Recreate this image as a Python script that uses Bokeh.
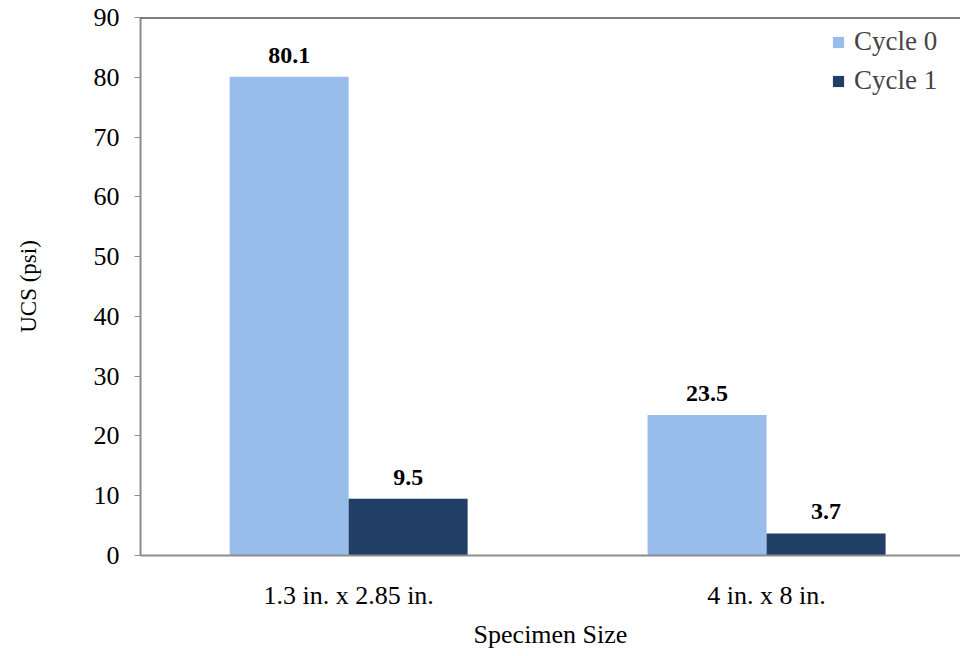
from bokeh.plotting import figure
from bokeh.models import ColumnDataSource, FixedTicker, Range1d, Span, Legend, LegendItem
from bokeh.core.properties import value
from bokeh.transform import dodge
from bokeh.embed import file_html
from bokeh.resources import INLINE

categories = ["1.3 in. x 2.85 in.", "4 in. x 8 in."]
cycle0 = [80.1, 23.5]
cycle1 = [9.5, 3.7]
series_names = ["Cycle 0", "Cycle 1"]
y_ticks = [0, 10, 20, 30, 40, 50, 60, 70, 80, 90]

FONT = "Liberation Serif"
C0 = "#99BDEB"
C1 = "#213F66"

xpos = [i + 1 for i in range(len(categories))]
src = ColumnDataSource(dict(
    x=xpos, c0=cycle0, c1=cycle1,
    l0=[f"{v:.1f}" for v in cycle0], l1=[f"{v:.1f}" for v in cycle1],
))

p = figure(width=960, height=652, output_backend="svg", toolbar_location=None,
           x_range=Range1d(0.502, 2.464), y_range=Range1d(0, 90),
           min_border_left=140, min_border_top=17, min_border_bottom=97, min_border_right=0)
p.outline_line_color = None
p.xgrid.visible = False
p.ygrid.visible = False

bw = 0.2847
r0 = p.vbar(x=dodge("x", -bw / 2, range=p.x_range), top="c0", width=bw, source=src,
            fill_color=C0, line_color=None)
r1 = p.vbar(x=dodge("x", bw / 2, range=p.x_range), top="c1", width=bw, source=src,
            fill_color=C1, line_color=None)

for col, lab, off in (("c0", "l0", -bw / 2), ("c1", "l1", bw / 2)):
    p.text(x=dodge("x", off, range=p.x_range), y=col, text=lab, source=src,
           text_font=value(FONT), text_font_style="bold", text_font_size="24px",
           text_align="center", text_baseline="bottom", y_offset=-14, text_color="black")

p.add_layout(Span(location=90, dimension="width", line_color="black", line_width=2))

# axes
p.yaxis.ticker = FixedTicker(ticks=y_ticks)
p.yaxis.axis_line_color = "#8C8C8C"
p.yaxis.axis_line_width = 2
p.yaxis.major_tick_line_color = "#8C8C8C"
p.yaxis.major_tick_out = 6
p.yaxis.major_tick_in = 0
p.yaxis.minor_tick_line_color = None
p.yaxis.major_label_text_font = FONT
p.yaxis.major_label_text_font_size = "26px"
p.yaxis.major_label_text_color = "black"
p.yaxis.major_label_standoff = 15
p.yaxis.axis_label = "UCS (psi)"
p.yaxis.axis_label_text_font = FONT
p.yaxis.axis_label_text_font_size = "23px"
p.yaxis.axis_label_text_font_style = "normal"
p.yaxis.axis_label_text_color = "black"
p.yaxis.axis_label_standoff = 50

p.xaxis.ticker = FixedTicker(ticks=xpos)
p.xaxis.major_label_overrides = {x: c for x, c in zip(xpos, categories)}
p.xaxis.axis_line_color = "#8C8C8C"
p.xaxis.axis_line_width = 2
p.xaxis.major_tick_line_color = None
p.xaxis.minor_tick_line_color = None
p.xaxis.major_label_text_font = FONT
p.xaxis.major_label_text_font_size = "26px"
p.xaxis.major_label_text_color = "black"
p.xaxis.major_label_standoff = 19
p.xaxis.axis_label = "Specimen Size"
p.xaxis.axis_label_text_font = FONT
p.xaxis.axis_label_text_font_size = "26px"
p.xaxis.axis_label_text_font_style = "normal"
p.xaxis.axis_label_text_color = "black"
p.xaxis.axis_label_standoff = 7

legend = Legend(items=[LegendItem(label=series_names[0], renderers=[r0]),
                       LegendItem(label=series_names[1], renderers=[r1])],
                location=(691, 459), border_line_color=None, background_fill_alpha=0,
                label_text_font=FONT, label_text_font_size="27px",
                glyph_width=14, glyph_height=14, label_height=28, spacing=8,
                label_standoff=9, margin=0, padding=2)
p.add_layout(legend)

open("out.html", "w").write(file_html(p, INLINE))
